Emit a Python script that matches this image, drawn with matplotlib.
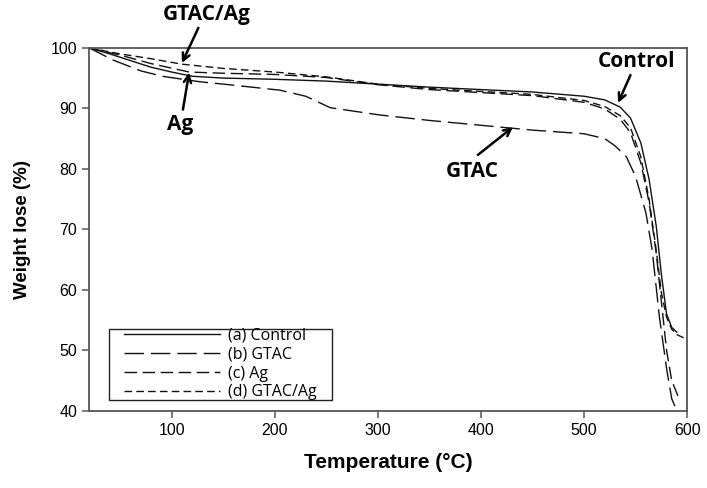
import matplotlib
matplotlib.use("Agg")
import matplotlib.pyplot as plt
from matplotlib.patches import Rectangle

# ---- data ----
control_T = [20, 40, 60, 80, 100, 120, 150, 200, 250, 300, 350, 400, 450, 500, 520, 535, 545, 555, 563, 570, 575, 580, 585, 590]
control_W = [100, 99.0, 97.9, 96.8, 96.0, 95.3, 95.0, 94.8, 94.5, 94.0, 93.5, 93.1, 92.7, 92.0, 91.4, 90.2, 88.4, 84.3, 78.3, 70.5, 62.5, 56.0, 53.8, 53.0]

gtac_T = [20, 43, 70, 91, 127, 156, 205, 230, 254, 302, 350, 400, 450, 500, 520, 530, 541, 550, 560, 566, 573, 580, 585, 590]
gtac_W = [100, 98.0, 96.2, 95.3, 94.4, 93.9, 93.0, 92.0, 90.1, 88.9, 88.0, 87.2, 86.4, 85.8, 85.0, 83.8, 82.0, 78.7, 72.7, 66.6, 55.6, 47.0, 42.0, 40.0]

ag_T = [20, 50, 80, 117, 150, 200, 250, 300, 350, 400, 450, 500, 520, 535, 545, 555, 563, 570, 575, 580, 585, 591]
ag_W = [100, 98.8, 97.4, 96.0, 95.8, 95.6, 95.1, 93.9, 93.1, 92.6, 92.1, 91.0, 89.9, 88.2, 86.0, 81.0, 74.5, 66.0, 58.0, 50.0, 45.0, 42.5]

gtacag_T = [20, 50, 80, 110, 150, 200, 250, 300, 350, 400, 450, 500, 520, 535, 545, 555, 563, 570, 575, 580, 585, 590, 600]
gtacag_W = [100, 99.0, 98.2, 97.3, 96.6, 96.0, 95.2, 94.0, 93.3, 92.8, 92.3, 91.3, 90.3, 88.8, 86.8, 82.0, 75.0, 66.5, 59.5, 55.5, 53.5, 52.6, 51.8]

legend_labels = ["(a) Control", "(b) GTAC", "(c) Ag", "(d) GTAC/Ag"]
x_ticks = [100, 200, 300, 400, 500, 600]
y_ticks = [40, 50, 60, 70, 80, 90, 100]

fig = plt.figure(figsize=(7.07, 4.88), dpi=100)
ax = fig.add_axes([0.126, 0.158, 0.846, 0.744])

lw = 1.0
ax.plot(control_T, control_W, color="#111111", lw=lw, linestyle="-", label=legend_labels[0])
ax.plot(gtac_T, gtac_W, color="#111111", lw=lw, linestyle=(0, (14, 5)), label=legend_labels[1])
ax.plot(ag_T, ag_W, color="#111111", lw=lw, linestyle=(0, (9, 4)), label=legend_labels[2])
ax.plot(gtacag_T, gtacag_W, color="#111111", lw=lw, linestyle=(0, (5.5, 3)), label=legend_labels[3])

ax.set_xlim(20, 600)
ax.set_ylim(40, 100)
ax.set_xticks(x_ticks)
ax.set_yticks(y_ticks)

for s in ax.spines.values():
    s.set_color("#555555")
    s.set_linewidth(1.3)
ax.tick_params(direction="out", length=5, width=1.1, color="#555555",
               labelsize=11.5, top=False, right=False)
for lab in ax.get_xticklabels() + ax.get_yticklabels():
    lab.set_fontfamily("Liberation Sans")

ax.set_xlabel("Temperature (\u00b0C)", fontsize=15, fontweight="bold",
              family="Liberation Sans", labelpad=11)
ax.set_ylabel("Weight lose (%)", fontsize=13.5, fontweight="bold",
              family="Liberation Sans", labelpad=14)

# legend: entries without frame, frame drawn as a rectangle in axes coords
leg = ax.legend(loc="upper left", bbox_to_anchor=(0.058, 0.229), borderaxespad=0,
                frameon=False, handlelength=6.0, labelspacing=0.18,
                handletextpad=0.55, borderpad=0,
                prop={"family": "Open Sans", "size": 11.5})
ax.add_patch(Rectangle((0.0334, 0.0303), 0.372, 0.1956, transform=ax.transAxes,
                       fill=False, edgecolor="#222222", lw=1.0, zorder=5))

ann_font = dict(fontsize=15, fontweight="bold", family="Open Sans",
                ha="center", va="center", color="black")
arrow = dict(arrowstyle="->", lw=1.8, color="black", mutation_scale=13,
             shrinkA=0, shrinkB=0)

ax.text(134, 105.5, "GTAC/Ag", clip_on=False, **ann_font)
ax.annotate("", xy=(110, 97.5), xytext=(126, 103.3), arrowprops=arrow, annotation_clip=False)

ax.text(108, 87.3, "Ag", **ann_font)
ax.annotate("", xy=(117, 95.9), xytext=(111, 89.8), arrowprops=arrow)

ax.text(551, 97.7, "Control", **ann_font)
ax.annotate("", xy=(533, 90.9), xytext=(545, 95.5), arrowprops=arrow)

ax.text(392, 79.5, "GTAC", **ann_font)
ax.annotate("", xy=(431, 86.9), xytext=(397, 82.3), arrowprops=arrow)

fig.savefig("out.png", dpi=100)
